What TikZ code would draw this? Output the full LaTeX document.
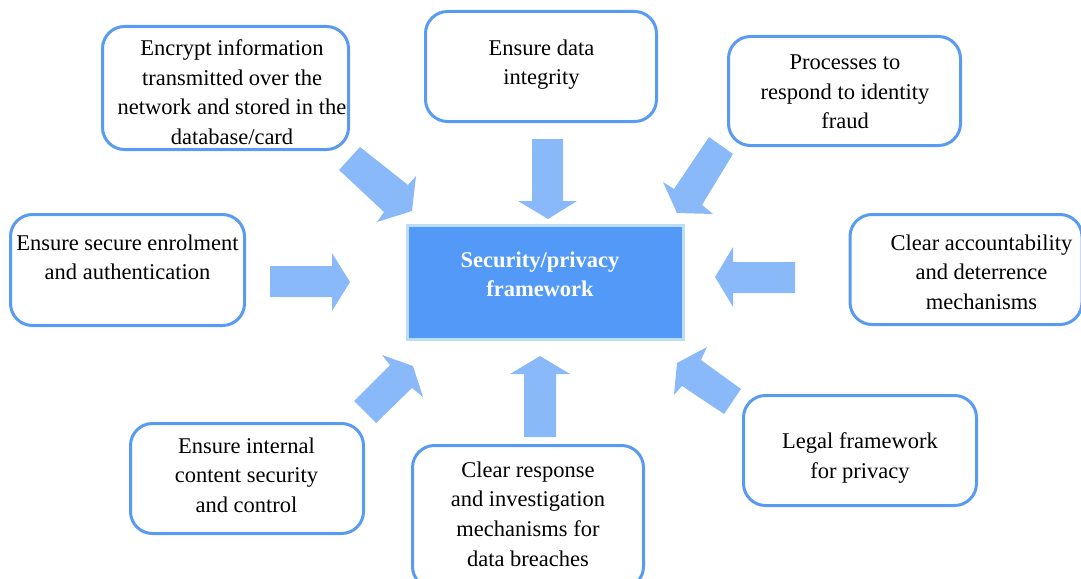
\documentclass[tikz,border=0pt]{standalone}
\usepackage{fontspec}
\setmainfont{Liberation Serif}
\definecolor{boxline}{HTML}{5A9BF2}
\definecolor{arrowfill}{HTML}{8AB9F9}
\definecolor{corefill}{HTML}{5299F8}
\definecolor{coreline}{HTML}{BDDCF6}
\tikzset{
  roundbox/.style={draw=boxline, line width=3pt, rounded corners=22pt, fill=white, inner sep=0pt},
  boxtext/.style={anchor=north, inner sep=0pt, align=center, text=black,
    font=\fontsize{22.5}{29.6}\selectfont},
  corebox/.style={draw=coreline, fill=corefill, line width=3pt, inner sep=0pt},
  coretext/.style={anchor=north, inner sep=0pt, align=center, text=white,
    font=\fontsize{22.5}{29.6}\selectfont\bfseries},
  blockarrow/.style={fill=arrowfill, draw=none}
}
\begin{document}
\begin{tikzpicture}[x=1pt, y=-1pt]
\useasboundingbox (0,0) rectangle (1081,578);

% boxes
\node[roundbox, minimum width=246pt, minimum height=123pt] (b1) at (225.5,88) {};
\node[roundbox, minimum width=231pt, minimum height=110pt] (b2) at (541,66.5) {};
\node[roundbox, minimum width=232pt, minimum height=109pt] (b3) at (844.5,91) {};
\node[roundbox, minimum width=234pt, minimum height=111pt] (b4) at (127.5,270) {};
\node[roundbox, minimum width=232pt, minimum height=110pt] (b5) at (966,269.5) {};
\node[roundbox, minimum width=233pt, minimum height=110pt] (b6) at (247,478.5) {};
\node[roundbox, minimum width=231pt, minimum height=143pt] (b7) at (528,517) {};
\node[roundbox, minimum width=233pt, minimum height=110pt] (b8) at (860,450.5) {};

\node[boxtext] (t1) at (232,39.5) {Encrypt information\\transmitted over the\\network and stored in the\\database/card};
\node[boxtext] (t2) at (541.5,39.5) {Ensure data\\integrity};
\node[boxtext] (t3) at (845,54.5) {Processes to\\respond to identity\\fraud};
\node[boxtext] (t4) at (127.5,234.5) {Ensure secure enrolment\\and authentication};
\node[boxtext] (t5) at (981.5,234.5) {Clear accountability\\and deterrence\\mechanisms};
\node[boxtext] (t6) at (246.5,437.5) {Ensure internal\\content security\\and control};
\node[boxtext] (t7) at (528,461.5) {Clear response\\and investigation\\mechanisms for\\data breaches};
\node[boxtext] (t8) at (860,432.5) {Legal framework\\for privacy};

% central box
\node[corebox, minimum width=276pt, minimum height=114pt] (core) at (545.5,282.5) {};
\node[coretext] (coretxt) at (540,251.5) {Security/privacy\\framework};

% block arrows
\fill[blockarrow] (270,266) -- (332,266) -- (332,253) -- (350,282) -- (332,311) -- (332,297) -- (270,297) -- cycle;
\fill[blockarrow] (795,262) -- (733,262) -- (733,247) -- (715,277) -- (733,307) -- (733,293) -- (795,293) -- cycle;
\fill[blockarrow] (532,139) -- (563,139) -- (563,201) -- (577,201) -- (548,219) -- (518,201) -- (532,201) -- cycle;
\fill[blockarrow] (524,437) -- (556,437) -- (556,374) -- (570,374) -- (540,356) -- (510,374) -- (524,374) -- cycle;
\fill[blockarrow] (360,147) -- (408,185) -- (416,176) -- (412,211) -- (377,222) -- (384,212) -- (339,170) -- cycle;
\fill[blockarrow] (709,137) -- (733,154) -- (702,205) -- (713,214) -- (677,213) -- (663,182) -- (674,189) -- cycle;
\fill[blockarrow] (354,401) -- (390,365) -- (382,355) -- (413,366) -- (423,397) -- (412,388) -- (376,423) -- cycle;
\fill[blockarrow] (741,389) -- (701,360) -- (707,347) -- (677,363) -- (674,395) -- (682,386) -- (724,414) -- cycle;
\end{tikzpicture}
\end{document}
